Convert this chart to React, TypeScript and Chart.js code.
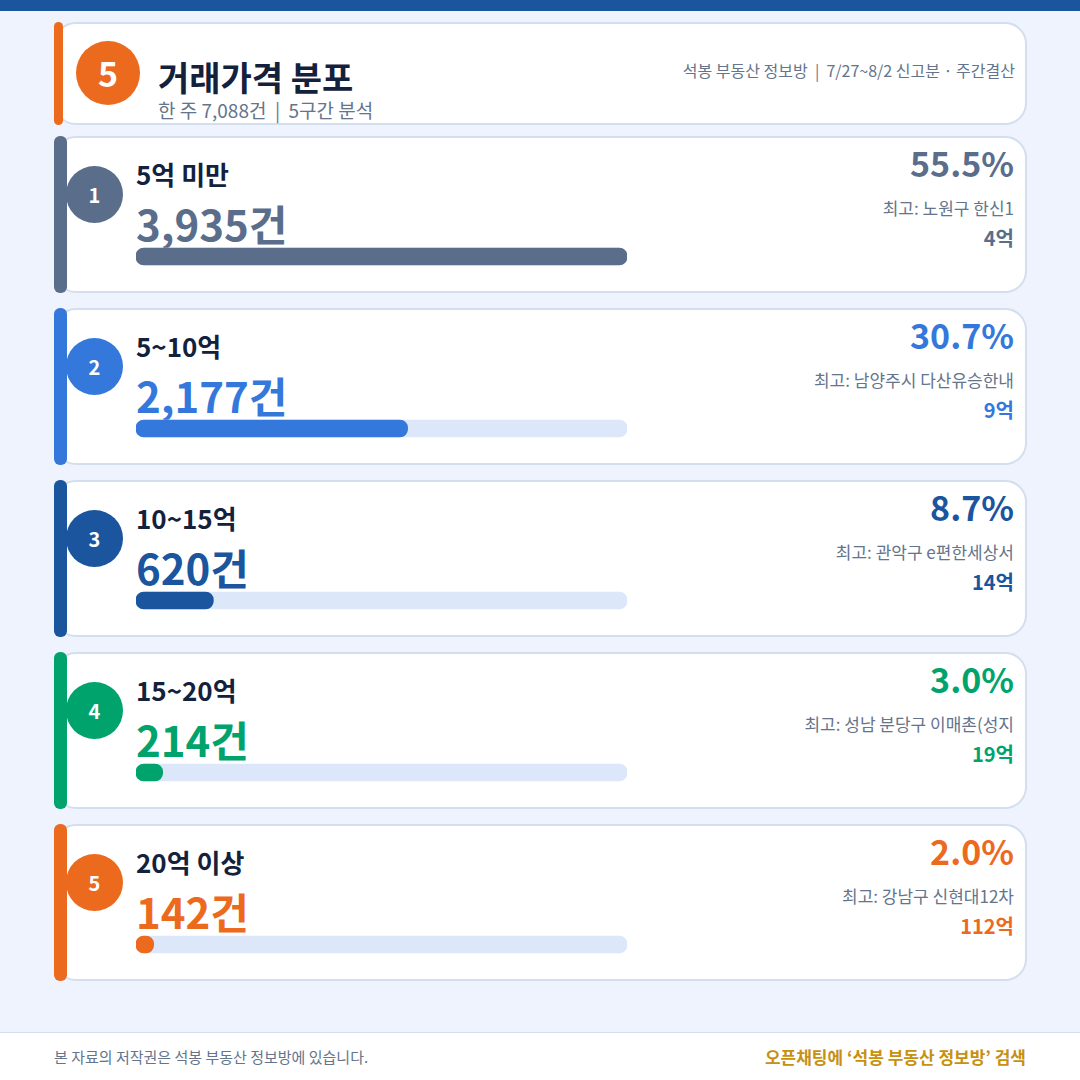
import { useEffect, useRef } from 'react';
import { Chart, registerables } from 'chart.js';

Chart.register(...registerables);

const BANDS = ['5억 미만', '5~10억', '10~15억', '15~20억', '20억 이상'];
const COUNTS = [3935, 2177, 620, 214, 142];
const COUNT_LABELS = ['3,935건', '2,177건', '620건', '214건', '142건'];
const TRACK = [3935, 3935, 3935, 3935, 3935];
const SHARES = ['55.5%', '30.7%', '8.7%', '3.0%', '2.0%'];
const TOP_NAMES = ['최고: 노원구 한신1', '최고: 남양주시 다산유승한내', '최고: 관악구 e편한세상서', '최고: 성남 분당구 이매촌(성지', '최고: 강남구 신현대12차'];
const TOP_PRICES = ['4억', '9억', '14억', '19억', '112억'];
const COLORS = ['#5a6e8c', '#3578dc', '#1a559e', '#00a36c', '#ec6a1e'];

const FONT = '"Noto Sans CJK KR", "Noto Sans", sans-serif';
const ROW_START = 136;
const ROW_STEP = 172;

function BarsChart(): React.JSX.Element {
  const canvasRef = useRef<HTMLCanvasElement>(null);

  useEffect(() => {
    if (!canvasRef.current) return;
    const chart = new Chart(canvasRef.current, {
      type: 'bar',
      data: {
        labels: BANDS,
        datasets: [
          {
            data: COUNTS,
            backgroundColor: COLORS,
            borderRadius: 8,
            borderSkipped: false,
            barThickness: 17,
            grouped: false,
            order: 0,
          },
          {
            data: TRACK,
            backgroundColor: '#dde7fa',
            borderRadius: 8,
            borderSkipped: false,
            barThickness: 17,
            grouped: false,
            order: 1,
          },
        ],
      },
      options: {
        indexAxis: 'y',
        responsive: false,
        animation: false,
        // half a pixel so the 17px bars land on whole pixels
        layout: { padding: { top: 0.5, bottom: 0.5 } },
        plugins: { legend: { display: false }, tooltip: { enabled: false } },
        scales: {
          x: { display: false, min: 0, max: 3935 },
          y: { display: false },
        },
      },
    });
    return () => chart.destroy();
  }, []);

  return (
    <canvas
      ref={canvasRef}
      width={491}
      height={861}
      style={{ position: 'absolute', left: 136, top: 170, width: 491, height: 861, pointerEvents: 'none' }}
    />
  );
}

function text(left: number | null, right: number | null, top: number, size: number, weight: number, color: string): React.CSSProperties {
  return {
    position: 'absolute',
    ...(left !== null ? { left } : {}),
    ...(right !== null ? { right } : {}),
    top,
    fontSize: size,
    fontWeight: weight,
    color,
    lineHeight: '1',
    whiteSpace: 'pre',
  };
}

const cardStyle: React.CSSProperties = {
  position: 'absolute',
  left: 54,
  width: 973,
  boxSizing: 'border-box',
  background: '#ffffff',
  border: '2px solid #d3deef',
  borderRadius: 22,
};

export default function App(): React.JSX.Element {
  return (
    <div style={{ position: 'absolute', left: 0, top: 0, width: 1080, height: 1080, overflow: 'hidden', background: '#eef3fd', fontFamily: FONT }}>
      <div style={{ position: 'absolute', left: 0, top: 0, width: 1080, height: 11, background: '#1a559e' }} />

      <div style={{ ...cardStyle, top: 22, height: 103 }} />
      <div style={{ position: 'absolute', left: 54, top: 22, width: 9, height: 103, borderRadius: 5, background: COLORS[4] }} />
      <div style={{ position: 'absolute', left: 76, top: 41, width: 64, height: 64, borderRadius: '50%', background: COLORS[4], color: '#fff', fontSize: 34, fontWeight: 700, lineHeight: '64px', textAlign: 'center' }}>5</div>
      <div style={text(158, null, 60, 34, 700, '#14213d')}>거래가격 분포</div>
      <div style={text(158, null, 100, 19, 400, '#64748b')}>{'한 주 7,088건  |  5구간 분석'}</div>
      <div style={text(null, 65, 62, 16, 400, '#64748b')}>{'석봉 부동산 정보방  |  7/27~8/2 신고분 · 주간결산'}</div>

      {BANDS.map((band, i) => {
        const top = ROW_START + ROW_STEP * i;
        return (
          <div key={band}>
            <div style={{ ...cardStyle, top, height: 157 }} />
            <div style={{ position: 'absolute', left: 54, top, width: 13, height: 157, borderRadius: 6, background: COLORS[i] }} />
            <div style={{ position: 'absolute', left: 66, top: top + 30, width: 57, height: 57, borderRadius: '50%', background: COLORS[i], color: '#fff', fontSize: 20, fontWeight: 700, lineHeight: '57px', textAlign: 'center' }}>{i + 1}</div>
            <div style={text(136, null, top + 25, 26, 700, '#14213d')}>{band}</div>
            <div style={text(136, null, top + 66, 42, 700, COLORS[i])}>{COUNT_LABELS[i]}</div>
            <div style={text(null, 66, top + 10, 34, 700, COLORS[i])}>{SHARES[i]}</div>
            <div style={text(null, 66, top + 63, 17, 400, '#64748b')}>{TOP_NAMES[i]}</div>
            <div style={text(null, 66, top + 92, 20, 700, COLORS[i])}>{TOP_PRICES[i]}</div>
          </div>
        );
      })}

      <BarsChart />

      <div style={{ position: 'absolute', left: 0, top: 1032, width: 1080, height: 48, background: '#ffffff', borderTop: '1px solid #d3deef', boxSizing: 'border-box' }} />
      <div style={text(54, null, 1049, 15, 400, '#64748b')}>본 자료의 저작권은 석봉 부동산 정보방에 있습니다.</div>
      <div style={text(null, 54, 1048, 17, 700, '#c8900f')}>오픈채팅에 ‘석봉 부동산 정보방’ 검색</div>
    </div>
  );
}
